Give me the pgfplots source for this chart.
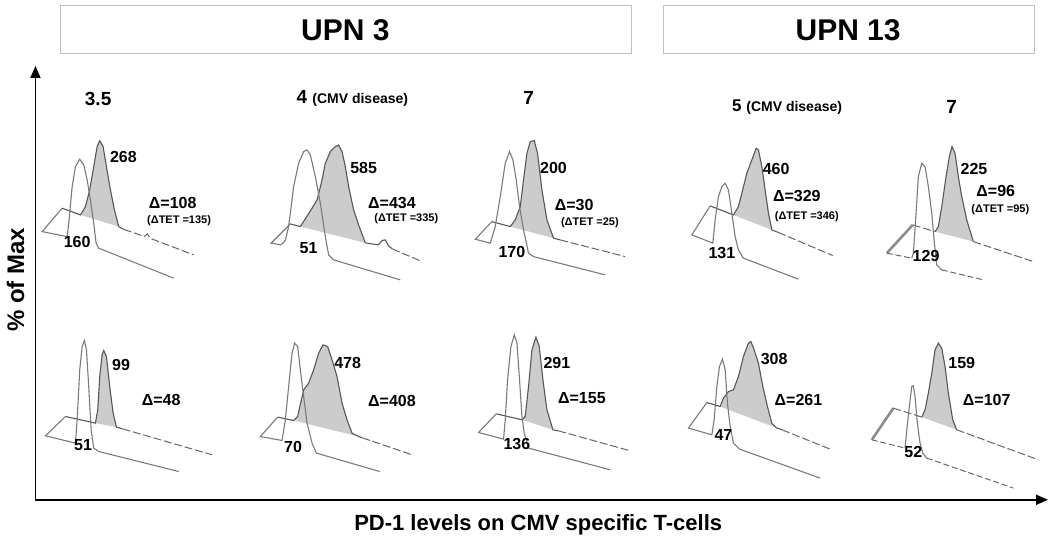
\documentclass[border=0pt]{standalone}
\usepackage{pgfplots}
\pgfplotsset{compat=1.18}
\usepackage{fontspec}
\setmainfont{Liberation Sans}
\usetikzlibrary{arrows.meta}

% line styles for the offset histograms
\pgfplotsset{
  front/.style={draw=black!52, line width=0.55pt},
  back/.style={draw=black!66, line width=0.55pt},
  backtail/.style={draw=black!60, line width=0.5pt, dash pattern=on 4pt off 1.4pt},
  fronttail/.style={draw=black!60, line width=0.5pt, dash pattern=on 3pt off 1.4pt},
  edge/.style={draw=black!45, line width=1.3pt},
  shade/.style={fill=black!20, draw=none},
}
\newcommand{\fs}[1]{\fontsize{#1}{#1}\selectfont\bfseries}

\begin{document}
\begin{tikzpicture}
\begin{axis}[
  scale only axis, width=525pt, height=273.5pt,
  xmin=0, xmax=1050, ymin=0, ymax=547, y dir=reverse,
  hide axis, clip=false,
]
% ---- shaded (PD-1) peaks
\addplot[shade] coordinates {(80,215) (85,206.7) (89.3,190) (93.3,166.7) (96.7,146.7) (99.3,140.7) (102.7,146.7) (106,166.7) (110,190) (114,210) (118.3,226.7)};
\addplot[shade] coordinates {(300,226.7) (311.7,208.3) (316.7,200) (321.7,180) (325,163.3) (330,151.7) (335,146.7) (338.3,145) (341.7,151.7) (345,166.7) (348.3,186.7) (353.3,210) (358.3,225) (365,243)};
\addplot[shade] coordinates {(510,226.7) (515,220) (520,206.7) (523.3,180) (526.7,153.3) (530,141.7) (534,140.7) (537.3,153.3) (541.7,190) (546.7,220) (553.3,238.3)};
\addplot[shade] coordinates {(733.3,215) (738.3,206.7) (741.7,193.3) (746.7,173.3) (751.7,160) (756,148.3) (758.3,150) (761.7,166.7) (765,190) (768.3,213.3) (771.7,230)};
\addplot[shade] coordinates {(935,231.7) (938.3,226.7) (941.7,206.7) (946,176.7) (949.3,156.7) (952,146.7) (955,153.3) (958.3,176.7) (961.7,196.7) (966.7,220) (973.3,241.7)};
\addplot[shade] coordinates {(95,423.3) (97.3,410) (99.3,376.7) (101.7,355) (103.3,350.7) (106,356.7) (109.3,386.7) (112.7,413.3) (116,427.3)};
\addplot[shade] coordinates {(293.3,420.7) (297.3,416.7) (303.3,390) (308.3,383.3) (313.3,370) (318.3,353.3) (322.7,345) (327.3,346.7) (331.7,360) (336.7,376.7) (341.7,403.3) (346.7,420) (351.7,433.3) (358.3,436.7)};
\addplot[shade] coordinates {(521.7,420) (525,416.7) (528.3,386.7) (531.7,350) (535.7,337.3) (539,346.7) (542.7,380) (546.7,410) (552.7,430)};
\addplot[shade] coordinates {(720,406.7) (723.3,398.3) (728.3,391.7) (733.3,390) (738.3,376.7) (743.3,356.7) (748.3,343.3) (750.7,341.7) (754,350) (758.3,363.3) (762.7,386.7) (767.3,406.7) (771.7,423.3) (776.7,428.3)};
\addplot[shade] coordinates {(921.7,417.3) (925,410) (928.3,393.3) (931.7,373.3) (935,350) (938.3,343.3) (941.7,348.3) (945,366.7) (948.3,393.3) (952.7,420) (956.7,430)};

% ---- UPN 3, day 3.5 (top)
\addplot[back] coordinates {(61.7,208.3) (80,215) (85,206.7) (89.3,190) (93.3,166.7) (96.7,146.7) (99.3,140.7) (102.7,146.7) (106,166.7) (110,190) (114,210) (118.3,226.7) (123.3,229.5)};
\addplot[backtail] coordinates {(123.3,229.5) (144,236.5) (147,234) (150,238.5) (193.3,255)};
\addplot[front] coordinates {(61.7,208.3) (41.7,231.7) (66.7,236.7) (68.3,223.3) (71.7,186.7) (75,166.7) (79.3,159.3) (83.3,165) (86.7,180) (90,200) (93.3,223.3) (95.7,243.3) (98.3,248.3) (173.3,278.3)};
% ---- UPN 3, day 4
\addplot[back] coordinates {(290,224) (300,226.7) (311.7,208.3) (316.7,200) (321.7,180) (325,163.3) (330,151.7) (335,146.7) (338.3,145) (341.7,151.7) (345,166.7) (348.3,186.7) (353.3,210) (358.3,225) (365,243) (378,245) (382,240.5) (385,240) (388.3,246) (392,249)};
\addplot[backtail] coordinates {(392,249) (421.7,261.7)};
\addplot[front] coordinates {(290,224) (270.7,243.3) (275,244) (280,245) (283,243) (285,240) (288,228) (290,213.3) (293.3,186.7) (298.3,163.3) (303.3,151.7) (306.7,150) (310,155) (315,176.7) (320,203.3) (325,236.7) (328.3,255) (333.3,260) (400,280)};
% ---- UPN 3, day 7
\addplot[back] coordinates {(491.7,221.7) (510,226.7) (515,220) (520,206.7) (523.3,180) (526.7,153.3) (530,141.7) (534,140.7) (537.3,153.3) (541.7,190) (546.7,220) (553.3,238.3) (560,240)};
\addplot[backtail] coordinates {(560,240) (625,256.7)};
\addplot[front] coordinates {(491.7,221.7) (475,239.3) (490,243.3) (495,226.7) (500,196.7) (505,163.3) (509.3,151.7) (512.7,160) (516,180) (519.3,206.7) (523.3,230) (528.3,253.3) (533.3,256.7) (605,275)};
% ---- UPN 13, day 5
\addplot[back] coordinates {(710,206) (733.3,215) (738.3,206.7) (741.7,193.3) (746.7,173.3) (751.7,160) (756,148.3) (758.3,150) (761.7,166.7) (765,190) (768.3,213.3) (771.7,230) (778,232.5)};
\addplot[backtail] coordinates {(778,232.5) (832.7,255.7)};
\addplot[front] coordinates {(710,206) (691.7,235) (712.7,243.3) (715,220) (718.3,196.7) (721.7,186.7) (725,183.3) (728.3,190) (731.7,213.3) (735,236.7) (738.3,250) (743.3,258.3) (798.3,279.3)};
% ---- UPN 13, day 7
\addplot[edge] coordinates {(886.7,253.3) (912.7,225)};
\addplot[backtail] coordinates {(912.7,225) (935,231.7)};
\addplot[back] coordinates {(935,231.7) (938.3,226.7) (941.7,206.7) (946,176.7) (949.3,156.7) (952,146.7) (955,153.3) (958.3,176.7) (961.7,196.7) (966.7,220) (973.3,241.7)};
\addplot[backtail] coordinates {(973.3,241.7) (1033.3,261.7)};
\addplot[fronttail] coordinates {(886.7,253.3) (911.7,258.3)};
\addplot[front] coordinates {(911.7,258.3) (913.3,253.3) (916,213.3) (918.3,176.7) (921.7,163.3) (925,166.7) (928.3,186.7) (931.7,213.3) (934,240) (936.7,265) (941.7,270)};
\addplot[fronttail] coordinates {(941.7,270) (983.3,280)};

% ---- UPN 3, day 3.5 (bottom)
\addplot[back] coordinates {(65,416.7) (95,423.3) (97.3,410) (99.3,376.7) (101.7,355) (103.3,350.7) (106,356.7) (109.3,386.7) (112.7,413.3) (116,427.3) (122,429)};
\addplot[backtail] coordinates {(122,429) (211.7,455)};
\addplot[front] coordinates {(65,416.7) (45,436) (75,443.3) (76.7,420) (79.3,370) (81.7,346.7) (84,340.7) (86,350) (88.3,386.7) (90.7,430) (93.3,448.3) (98.3,451.7) (178.3,471.7)};
% ---- UPN 3, day 4
\addplot[back] coordinates {(277.3,417.3) (293.3,420.7) (297.3,416.7) (303.3,390) (308.3,383.3) (313.3,370) (318.3,353.3) (322.7,345) (327.3,346.7) (331.7,360) (336.7,376.7) (341.7,403.3) (346.7,420) (351.7,433.3) (358.3,436.7) (362,438)};
\addplot[backtail] coordinates {(362,438) (411.7,455)};
\addplot[front] coordinates {(277.3,417.3) (260,436.7) (281.7,440.7) (285,420) (288.3,386.7) (291.7,353.3) (294.3,343.3) (297.3,346.7) (300,370) (303.3,396.7) (306.7,423.3) (311.7,443.3) (316,453.3) (379.3,471.7)};
% ---- UPN 3, day 7
\addplot[back] coordinates {(496,414) (521.7,420) (525,416.7) (528.3,386.7) (531.7,350) (535.7,337.3) (539,346.7) (542.7,380) (546.7,410) (552.7,430) (558,431)};
\addplot[backtail] coordinates {(558,431) (630,451)};
\addplot[front] coordinates {(496,414) (478.3,432.7) (503.3,439.3) (505,420) (507.3,380) (510.7,346.7) (514,335) (516.7,343.3) (519.3,380) (521.7,416.7) (524,433.3) (528.3,448.3) (610,470)};
% ---- UPN 13, day 5
\addplot[back] coordinates {(706.7,402.7) (720,406.7) (723.3,398.3) (728.3,391.7) (733.3,390) (738.3,376.7) (743.3,356.7) (748.3,343.3) (750.7,341.7) (754,350) (758.3,363.3) (762.7,386.7) (767.3,406.7) (771.7,423.3) (776.7,428.3) (782,430)};
\addplot[backtail] coordinates {(782,430) (831.7,450)};
\addplot[front] coordinates {(706.7,402.7) (688.3,428.3) (711.7,435) (714,420) (716.7,386.7) (719.3,366.7) (722.3,359.3) (725,370) (727.3,403.3) (730,426.7) (733.3,443.3) (739.3,449.3) (820,478.3)};
% ---- UPN 13, day 7
\addplot[edge] coordinates {(871.7,440) (893.3,408.3)};
\addplot[backtail] coordinates {(893.3,408.3) (921.7,417.3)};
\addplot[back] coordinates {(921.7,417.3) (925,410) (928.3,393.3) (931.7,373.3) (935,350) (938.3,343.3) (941.7,348.3) (945,366.7) (948.3,393.3) (952.7,420) (956.7,430)};
\addplot[backtail] coordinates {(956.7,430) (1038.3,460)};
\addplot[fronttail] coordinates {(871.7,440) (905,448.3)};
\addplot[front] coordinates {(905,448.3) (906.7,430) (909.3,406.7) (911.7,386.7) (913.3,386) (915,396.7) (917.3,423.3) (920,443.3) (922.7,453.3) (926.7,458.3)};
\addplot[fronttail] coordinates {(926.7,458.3) (1013.3,488.3)};

% ---- frame: header boxes and arrows
\draw[black!25, line width=0.5pt] (axis cs:60,5) rectangle (axis cs:631,54);
\draw[black!25, line width=0.5pt] (axis cs:663,5) rectangle (axis cs:1034,54);
\node at (axis cs:345,30) {\fs{15}UPN 3};
\node at (axis cs:848,30) {\fs{15}UPN 13};
\draw[line width=0.9pt, -{Triangle[length=6pt,width=5pt]}] (axis cs:35,500) -- (axis cs:35,66);
\draw[line width=0.9pt, -{Triangle[length=6pt,width=5pt]}] (axis cs:35,500) -- (axis cs:1048,500);
\node[rotate=90] at (axis cs:15,280) {\fs{12}\% of Max};
\node at (axis cs:538,525) {\fs{11}PD-1 levels on CMV specific T-cells};

% ---- day headings
\node at (axis cs:97.7,99) {\fs{9.5}3.5};
\node at (axis cs:352,98.5) {\fs{9.5}4 \fs{7}(CMV disease)};
\node at (axis cs:528.3,98.5) {\fs{9.5}7};
\node at (axis cs:787,107) {\fs{8.5}5 \fs{7}(CMV disease)};
\node at (axis cs:951.7,106.7) {\fs{9.5}7};

% ---- peak labels
\node at (axis cs:76.7,242.3) {\fs{8}160};
\node at (axis cs:123,156.7) {\fs{8}268};
\node at (axis cs:172.3,203) {\fs{8}Δ=108};
\node at (axis cs:178.7,221) {\fs{5.5}(ΔTET =135)};
\node at (axis cs:308.3,248.3) {\fs{8}51};
\node at (axis cs:363.3,168.3) {\fs{8}585};
\node at (axis cs:391.7,203) {\fs{8}Δ=434};
\node at (axis cs:406,219) {\fs{5.5}(ΔTET =335)};
\node at (axis cs:511.7,251.7) {\fs{8}170};
\node at (axis cs:553.3,168.3) {\fs{8}200};
\node at (axis cs:574,205.5) {\fs{8}Δ=30};
\node at (axis cs:589.7,223) {\fs{5.5}(ΔTET =25)};
\node at (axis cs:721.7,253.3) {\fs{8}131};
\node at (axis cs:776,169.3) {\fs{8}460};
\node at (axis cs:796.7,196) {\fs{8}Δ=329};
\node at (axis cs:806.7,217) {\fs{5.5}(ΔTET =346)};
\node at (axis cs:926,256) {\fs{8}129};
\node at (axis cs:974,169.3) {\fs{8}225};
\node at (axis cs:995.7,191) {\fs{8}Δ=96};
\node at (axis cs:1000.3,209.5) {\fs{5.5}(ΔTET =95)};
\node at (axis cs:82.7,445) {\fs{8}51};
\node at (axis cs:120.7,365) {\fs{8}99};
\node at (axis cs:160.7,400) {\fs{8}Δ=48};
\node at (axis cs:292.7,447.3) {\fs{8}70};
\node at (axis cs:347.3,362.7) {\fs{8}478};
\node at (axis cs:391.7,400.7) {\fs{8}Δ=408};
\node at (axis cs:516.7,444) {\fs{8}136};
\node at (axis cs:556.7,363.3) {\fs{8}291};
\node at (axis cs:581.7,398.3) {\fs{8}Δ=155};
\node at (axis cs:723.3,435) {\fs{8}47};
\node at (axis cs:774,359.3) {\fs{8}308};
\node at (axis cs:798.3,400) {\fs{8}Δ=261};
\node at (axis cs:913.3,451.7) {\fs{8}52};
\node at (axis cs:961.7,363.3) {\fs{8}159};
\node at (axis cs:986.7,400) {\fs{8}Δ=107};
\end{axis}
\path (current axis.south west) rectangle (current axis.north east);
\end{tikzpicture}
\end{document}
